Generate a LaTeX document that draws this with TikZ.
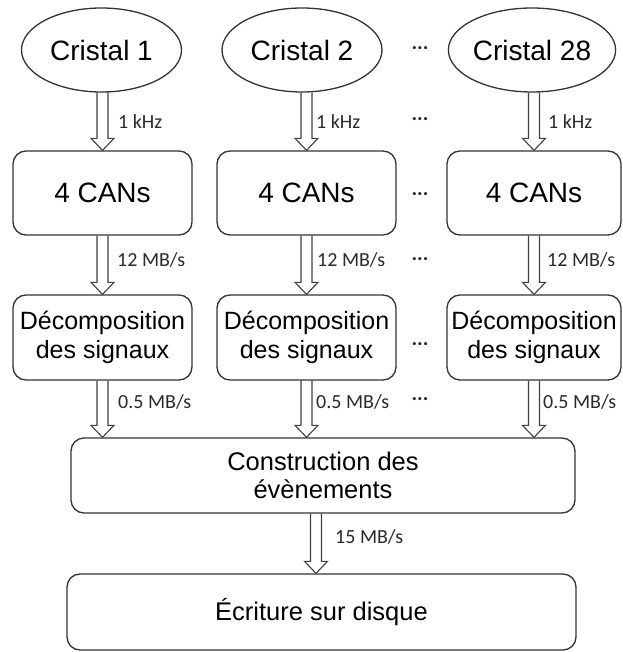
\documentclass[tikz,border=0pt]{standalone}
\usepackage{fontspec}
\setmainfont{Liberation Sans}
\newfontfamily\labfont{Carlito}
\usetikzlibrary{shapes.geometric,calc}
\definecolor{linec}{HTML}{333333}
\definecolor{arrc}{HTML}{404040}
\definecolor{labc}{HTML}{2A2A2A}
\tikzset{
  cristal/.style={ellipse,draw=linec,line width=1.3pt,minimum width=160pt,minimum height=84pt,inner sep=0pt,font=\fontsize{28}{32}\selectfont},
  canbox/.style={rectangle,rounded corners=13pt,draw=linec,line width=1.3pt,minimum height=84pt,inner sep=0pt,font=\fontsize{28}{32}\selectfont},
  decbox/.style={rectangle,rounded corners=13pt,draw=linec,line width=1.3pt,minimum height=85pt,inner sep=0pt,align=center,font=\fontsize{25}{29}\selectfont},
  bigbox/.style={rectangle,rounded corners=13pt,draw=linec,line width=1.3pt,inner sep=0pt,align=center,font=\fontsize{25.5}{28.5}\selectfont},
  lab/.style={anchor=west,inner sep=0pt,text=labc,font=\labfont\fontsize{20}{22}\selectfont},
  dots/.style={inner sep=0pt,text=labc,font=\labfont\bfseries\fontsize{21}{22}\selectfont},
  fatarrow/.style={draw=arrc,line width=1.1pt,line join=miter}
}
\newcommand\fatarrow[2]{%
  \draw[fatarrow] let \p1=(#1), \p2=(#2) in
   (\x1-5.5pt,\y1) -- (\x1-5.5pt,\y2+12pt) -- (\x1-11.5pt,\y2+12pt) -- (\x1,\y2)
   -- (\x1+11.5pt,\y2+12pt) -- (\x1+5.5pt,\y2+12pt) -- (\x1+5.5pt,\y1);}
\begin{document}
\begin{tikzpicture}[x=1pt,y=-1pt]
\useasboundingbox[fill=white] (0,0) rectangle (622,652);
% crystals
\node[cristal] (c1) at (101.5,50) {Cristal 1};
\node[cristal] (c2) at (302,50) {Cristal 2};
\node[cristal] (c3) at (532,50) {Cristal 28};
% ADCs
\node[canbox,minimum width=179pt] (k1) at (102.5,193) {4 CANs};
\node[canbox,minimum width=179pt] (k2) at (306.5,193) {4 CANs};
\node[canbox,minimum width=174pt] (k3) at (534,193) {4 CANs};
% decomposition
\node[decbox,minimum width=179pt] (d1) at (102.5,337.5) {Décomposition\\des signaux};
\node[decbox,minimum width=179pt] (d2) at (306.5,337.5) {Décomposition\\des signaux};
\node[decbox,minimum width=174pt] (d3) at (534,337.5) {Décomposition\\des signaux};
% event building
\node[bigbox,minimum width=504pt,minimum height=75pt] (cons) at (323,475.5) {Construction des\\évènements};
\node[bigbox,minimum width=509pt,minimum height=76pt] (ecr) at (321.5,612) {Écriture sur disque};
% arrows
\coordinate (a1) at (c1.south -| k1.north);
\coordinate (a2) at (c2.south -| k2.north);
\coordinate (a3) at (c3.south -| k3.north);
\fatarrow{a1}{k1.north}
\fatarrow{a2}{k2.north}
\fatarrow{a3}{k3.north}
\fatarrow{k1.south}{d1.north}
\fatarrow{k2.south}{d2.north}
\fatarrow{k3.south}{d3.north}
\fatarrow{d1.south}{d1.south |- cons.north}
\fatarrow{d2.south}{d2.south |- cons.north}
\fatarrow{d3.south}{d3.south |- cons.north}
\coordinate (a4) at ($(cons.south)+(-7,0)$);
\fatarrow{a4}{a4 |- ecr.north}
% labels
\node[lab] (l11) at (118,122) {1 kHz};
\node[lab] (l12) at (316,122) {1 kHz};
\node[lab] (l13) at (548,122) {1 kHz};
\node[lab] (l21) at (117,260) {12 MB/s};
\node[lab] (l22) at (317,260) {12 MB/s};
\node[lab] (l23) at (547,260) {12 MB/s};
\node[lab] (l31) at (118,402) {0.5 MB/s};
\node[lab] (l32) at (316,402) {0.5 MB/s};
\node[lab] (l33) at (543,402) {0.5 MB/s};
\node[lab] (l4) at (335,537) {15 MB/s};
% dots
\node[dots] (p1) at (420,48) {...};
\node[dots] (p2) at (420,119) {...};
\node[dots] (p3) at (420,194) {...};
\node[dots] (p4) at (420,259) {...};
\node[dots] (p5) at (420,344) {...};
\node[dots] (p6) at (420,399) {...};
\end{tikzpicture}
\end{document}
